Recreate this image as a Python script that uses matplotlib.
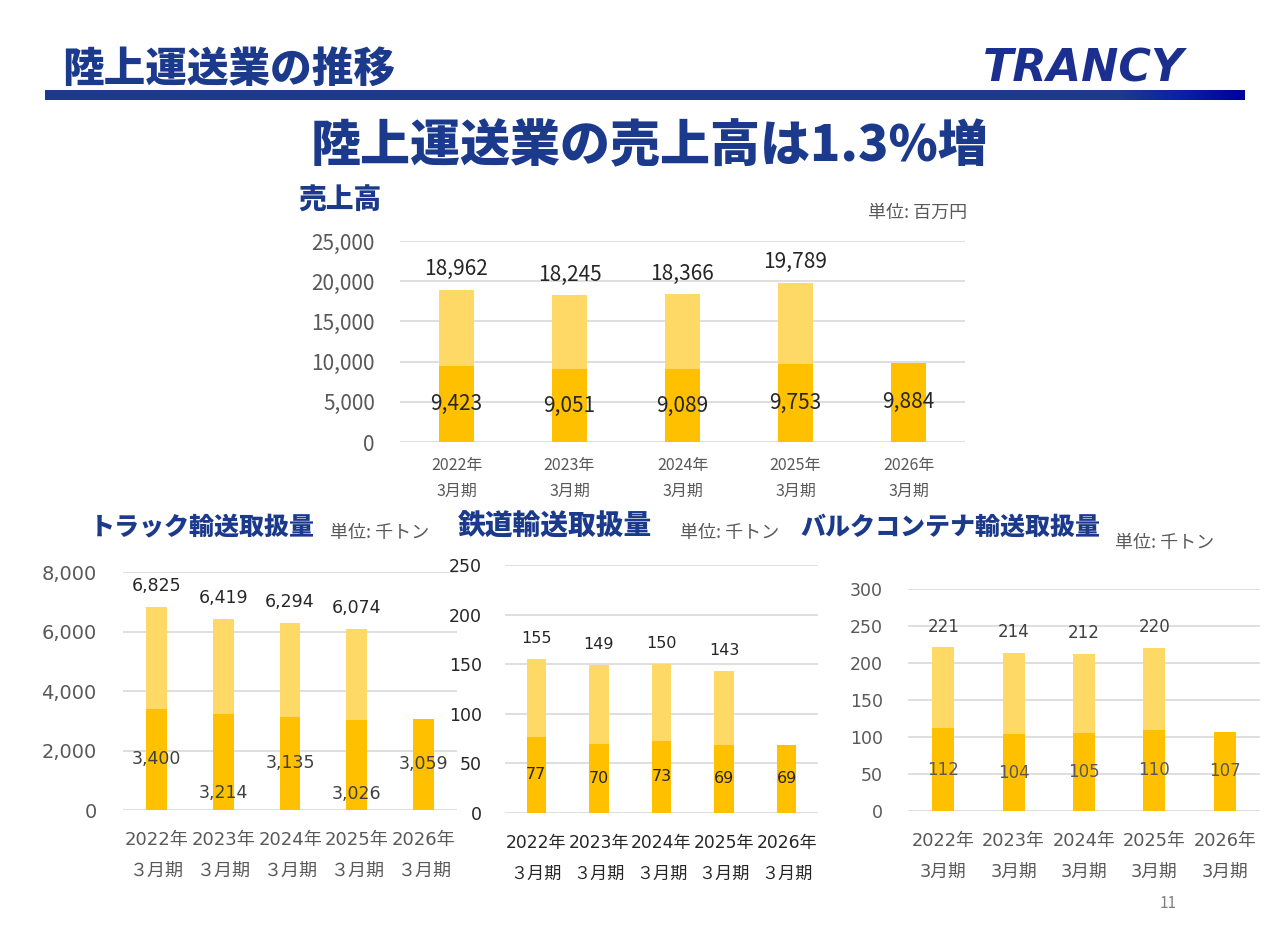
import numpy as np
import matplotlib.pyplot as plt
from matplotlib.colors import LinearSegmentedColormap

W, H = 1280, 947
CJK = 'Noto Sans CJK JP'
NUM = ['DejaVu Sans', 'Noto Sans CJK JP']
NAVY = '#1C3A8C'
LIGHT = '#FFD966'
DARK = '#FFC000'
GRID = '#D9D9D9'

# data (full year = light bar, first half = dark bar)
years = ['2022年', '2023年', '2024年', '2025年', '2026年']
sales_full = [18962, 18245, 18366, 19789]
sales_h1 = [9423, 9051, 9089, 9753, 9884]
truck_full = [6825, 6419, 6294, 6074]
truck_h1 = [3400, 3214, 3135, 3026, 3059]
rail_full = [155, 149, 150, 143]
rail_h1 = [77, 70, 73, 69, 69]
bulk_full = [221, 214, 212, 220]
bulk_h1 = [112, 104, 105, 110, 107]

plt.rcParams['font.family'] = [CJK, 'DejaVu Sans']

fig = plt.figure(figsize=(W / 100, H / 100), dpi=100)


def px_axes(left, right, top, bottom):
    ax = fig.add_axes([left / W, 1 - bottom / H, (right - left) / W, (bottom - top) / H])
    ax.set_facecolor('none')
    return ax


# background layer for page decoration and headings
bg = fig.add_axes([0, 0, 1, 1])
bg.axis('off')

bg.add_patch(plt.Rectangle((45, 90), 1200, 10, color='#1F3A8A', lw=0))
grad = np.linspace(0, 1, 256).reshape(1, -1)
cmap = LinearSegmentedColormap.from_list('hdr', ['#1F3A8A', '#0A1FA8', '#00009A'])
bg.imshow(grad, extent=(1120, 1245, 100, 90), cmap=cmap, aspect='auto', zorder=2)
bg.set_xlim(0, W)
bg.set_ylim(H, 0)

bg.text(62, 70, '陸上運送業の推移', fontsize=30, weight='heavy', color=NAVY,
        ha='left', va='center')
bg.text(983, 69, 'TRANCY', family='DejaVu Sans', fontsize=32, weight='bold',
        style='italic', color='#1B2F8E', ha='left', va='center')
bg.text(650, 146, '陸上運送業の売上高は1.3%増', fontsize=36, weight='heavy',
        color=NAVY, ha='center', va='center')

bg.text(298, 200, '売上高', fontsize=20, weight='heavy', color=NAVY, va='center')
bg.text(868, 213, '単位: 百万円', fontsize=13, color='#595959', va='center')

bg.text(90, 527, 'トラック輸送取扱量', fontsize=18, weight='heavy', color=NAVY, va='center')
bg.text(330, 533, '単位: 千トン', fontsize=13, color='#595959', va='center')
bg.text(458, 527, '鉄道輸送取扱量', fontsize=20, weight='heavy', color=NAVY, va='center')
bg.text(680, 533, '単位: 千トン', fontsize=13, color='#595959', va='center')
bg.text(800, 527, 'バルクコンテナ輸送取扱量', fontsize=18, weight='heavy', color=NAVY, va='center')
bg.text(1115, 543, '単位: 千トン', fontsize=13, color='#595959', va='center')

bg.text(1168, 903, '11', fontsize=11, color='#7F7F7F', ha='center', va='center')


def draw_chart(ax, full, h1, ymax, ystep, xlabels, family, tick_color,
               tick_fs, xtick_fs, ypad, xpad, label_fs, full_color, h1_color,
               low_idx=(), linespacing=1.4):
    ax.bar(np.arange(len(full)), full, width=0.31, color=LIGHT, zorder=2)
    ax.bar(np.arange(len(h1)), h1, width=0.31, color=DARK, zorder=3)

    for i, v in enumerate(full):
        ax.annotate(f'{v:,}', (i, v), xytext=(0, 15), textcoords='offset points',
                    ha='center', va='center', fontsize=label_fs, color=full_color,
                    family=family, zorder=5)
    for i, v in enumerate(h1):
        y = v * 0.18 if i in low_idx else v / 2
        ax.text(i, y, f'{v:,}', ha='center', va='center', fontsize=label_fs,
                color=h1_color, family=family, zorder=5)

    ax.set_xlim(-0.5, len(h1) - 0.5)
    ax.set_ylim(0, ymax)
    yt = list(range(0, ymax + 1, ystep))
    ax.set_yticks(yt, labels=[f'{v:,}' for v in yt], fontsize=tick_fs,
                  color=tick_color, family=family)
    ax.set_xticks(np.arange(len(h1)), labels=xlabels, fontsize=xtick_fs,
                  color=tick_color, family=family, linespacing=linespacing)
    ax.tick_params(axis='both', length=0)
    ax.tick_params(axis='y', pad=ypad)
    ax.tick_params(axis='x', pad=xpad)
    ax.yaxis.grid(True, color=GRID, lw=1.2, zorder=0)
    ax.set_axisbelow(True)
    for s in ax.spines.values():
        s.set_visible(False)


# 売上高
ax1 = px_axes(400, 965, 241, 442)
draw_chart(ax1, sales_full, sales_h1, 25000, 5000,
           [f'{y}\n3月期' for y in years], [CJK], '#595959',
           15, 11.5, 18, 10.5, 15, '#262626', '#262626', linespacing=1.7)

# トラック
ax2 = px_axes(123, 457, 572, 810)
draw_chart(ax2, truck_full, truck_h1, 8000, 2000,
           [f'{y}\n３月期' for y in years], NUM, '#595959',
           14, 13, 19, 15, 12.5, '#262626', '#404040', low_idx=(1, 3),
           linespacing=1.9)

# 鉄道
ax3 = px_axes(505, 818, 565, 813)
draw_chart(ax3, rail_full, rail_h1, 250, 50,
           [f'{y}\n３月期' for y in years], NUM, '#262626',
           12.5, 12.3, 16.5, 15, 11.5, '#262626', '#262626', linespacing=1.9)

# バルクコンテナ
ax4 = px_axes(908, 1260, 589, 811)
draw_chart(ax4, bulk_full, bulk_h1, 300, 50,
           [f'{y}\n3月期' for y in years], NUM, '#595959',
           12.5, 12.8, 18, 15, 12, '#404040', '#595959', linespacing=1.9)

fig.savefig('out.png', dpi=100, facecolor='white')
